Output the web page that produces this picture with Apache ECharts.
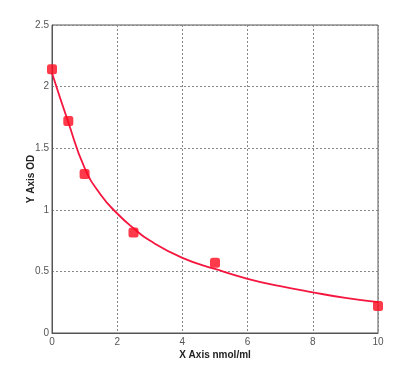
<!DOCTYPE html>
<html><head><meta charset="utf-8">
<script src="https://cdn.jsdelivr.net/npm/echarts@6/dist/echarts.min.js"></script>
<style>html,body{margin:0;padding:0;background:#fff}#c{width:416px;height:368px}</style>
</head><body><div id="c"></div>
<script>
var pointX = [0, 0.5, 1, 2.5, 5, 10];
var pointY = [2.14, 1.72, 1.29, 0.815, 0.57, 0.22];
var curveX = [0, 0.5, 1, 1.5, 2, 2.5, 3, 4, 5, 6, 7, 8, 9, 10];
var curveY = [2.11, 1.71, 1.34, 1.12, 0.97, 0.85, 0.75, 0.61, 0.52, 0.44, 0.38, 0.33, 0.285, 0.25];
var xTicks = [0, 2, 4, 6, 8, 10];
var yTicks = ['0', '0.5', '1', '1.5', '2', '2.5'];

var chart = echarts.init(document.getElementById('c'));
var lbl = {color: '#555', fontSize: 10, fontFamily: 'Liberation Sans'};
chart.setOption({
  animation: false,
  grid: {left: 52, right: 38, top: 25, bottom: 35, show: true, borderColor: '#555', borderWidth: 1, backgroundColor: 'transparent'},
  xAxis: {
    type: 'value', min: 0, max: 10, interval: 2,
    name: 'X Axis nmol/ml', nameLocation: 'middle', nameGap: 17, nameMoveOverlap: false,
    nameTextStyle: {fontSize: 10, fontWeight: 'bold', color: '#222', fontFamily: 'Liberation Sans'},
    axisLine: {show: true, onZero: false, lineStyle: {color: '#555'}},
    axisTick: {show: false},
    axisLabel: Object.assign({margin: 4, formatter: function(v){return xTicks.indexOf(v) >= 0 ? String(v) : '';}}, lbl),
    splitLine: {show: true, lineStyle: {color: '#888', type: [2, 2]}}
  },
  yAxis: {
    type: 'value', min: 0, max: 2.5, interval: 0.5,
    name: 'Y Axis OD', nameLocation: 'middle', nameGap: 16, nameMoveOverlap: false,
    nameTextStyle: {fontSize: 10, fontWeight: 'bold', color: '#222', fontFamily: 'Liberation Sans'},
    axisLine: {show: true, onZero: false, lineStyle: {color: '#555'}},
    axisTick: {show: false},
    axisLabel: Object.assign({margin: 3, formatter: function(v){return yTicks[Math.round(v / 0.5)];}}, lbl),
    splitLine: {show: true, lineStyle: {color: '#888', type: [2, 2]}}
  },
  series: [
    {type: 'line', smooth: 0.5, symbol: 'none', data: curveX.map(function(x, i){return [x, curveY[i]];}),
     lineStyle: {color: '#f5163f', width: 1.8}, z: 2},
    {type: 'scatter', symbol: 'roundRect', symbolSize: 10, data: pointX.map(function(x, i){return [x, pointY[i]];}),
     itemStyle: {color: '#ff0a1e'}, z: 3}
  ]
});
</script></body></html>
